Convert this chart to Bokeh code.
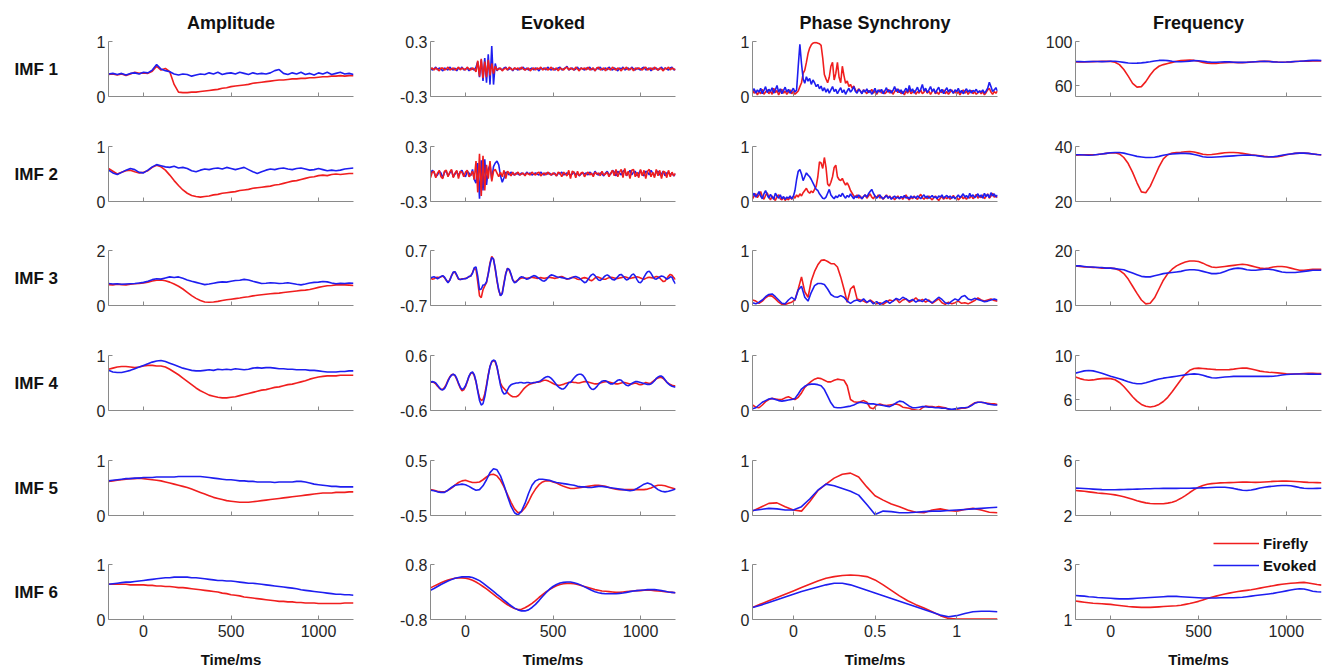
import numpy as np
from bokeh.plotting import figure
from bokeh.layouts import column, row
from bokeh.models import Range1d, FixedTicker, Legend, LegendItem, CustomJSTickFormatter, ColumnDataSource
from bokeh.core.properties import value
from bokeh.embed import file_html
from bokeh.resources import INLINE

# ---------------- labels ----------------
col_titles = ["Amplitude", "Evoked", "Phase Synchrony", "Frequency"]
row_labels = ["IMF 1", "IMF 2", "IMF 3", "IMF 4", "IMF 5", "IMF 6"]
x_label = "Time/ms"
legend_labels = ["Firefly", "Evoked"]

x_span = [(-200, 1200), (-200, 1200), (-0.25, 1.25), (-200, 1200)]
x_ticks = [[0, 500, 1000], [0, 500, 1000], [0, 0.5, 1], [0, 500, 1000]]

amp_ylim = [(0, 1), (0, 1), (0, 2), (0, 1), (0, 1), (0, 1)]
amp_yticks = [[0, 1], [0, 1], [0, 2], [0, 1], [0, 1], [0, 1]]
evk_ylim = [(-0.3, 0.3), (-0.3, 0.3), (-0.7, 0.7), (-0.6, 0.6), (-0.5, 0.5), (-0.8, 0.8)]
evk_yticks = [[-0.3, 0.3], [-0.3, 0.3], [-0.7, 0.7], [-0.6, 0.6], [-0.5, 0.5], [-0.8, 0.8]]
phs_ylim = [(0, 1)] * 6
phs_yticks = [[0, 1]] * 6
frq_ylim = [(50, 100), (20, 40), (10, 20), (5, 10), (2, 6), (1, 3)]
frq_yticks = [[60, 100], [20, 40], [10, 20], [6, 10], [2, 6], [1, 3]]

# ---------------- Amplitude (t = -200..1200, 25 ms) ----------------
amp1_evoked = [0.41,0.42,0.40,0.42,0.39,0.42,0.43,0.41,0.44,0.43,0.48,0.58,0.50,0.47,0.45,0.41,0.39,0.41,0.40,0.37,0.39,0.41,0.40,0.43,0.41,0.44,0.40,0.42,0.43,0.41,0.44,0.42,0.40,0.43,0.41,0.42,0.41,0.43,0.47,0.49,0.42,0.40,0.43,0.41,0.44,0.40,0.42,0.39,0.43,0.41,0.44,0.40,0.42,0.44,0.41,0.42,0.40]
amp1_firefly = [0.40,0.41,0.39,0.41,0.38,0.41,0.44,0.42,0.43,0.42,0.46,0.55,0.48,0.51,0.45,0.22,0.08,0.07,0.07,0.08,0.08,0.09,0.10,0.11,0.12,0.13,0.15,0.16,0.18,0.19,0.20,0.21,0.22,0.24,0.25,0.26,0.27,0.28,0.29,0.30,0.30,0.31,0.32,0.32,0.33,0.33,0.34,0.34,0.35,0.36,0.36,0.37,0.37,0.38,0.37,0.38,0.38]
amp2_evoked = [0.57,0.52,0.49,0.53,0.57,0.60,0.58,0.53,0.52,0.57,0.63,0.67,0.65,0.63,0.62,0.64,0.61,0.62,0.60,0.56,0.54,0.57,0.59,0.58,0.60,0.61,0.59,0.62,0.60,0.58,0.60,0.62,0.58,0.54,0.51,0.54,0.57,0.59,0.58,0.60,0.61,0.59,0.58,0.60,0.61,0.59,0.57,0.58,0.60,0.58,0.56,0.57,0.56,0.57,0.59,0.60,0.61]
amp2_firefly = [0.60,0.55,0.50,0.53,0.56,0.57,0.54,0.52,0.53,0.56,0.62,0.66,0.63,0.57,0.48,0.38,0.29,0.21,0.15,0.11,0.09,0.08,0.09,0.10,0.12,0.13,0.15,0.16,0.17,0.18,0.20,0.21,0.22,0.24,0.25,0.26,0.27,0.28,0.30,0.31,0.33,0.35,0.37,0.38,0.40,0.42,0.44,0.45,0.47,0.48,0.47,0.49,0.50,0.49,0.50,0.51,0.51]
amp3_evoked = [0.80,0.78,0.79,0.77,0.78,0.79,0.80,0.82,0.84,0.88,0.94,0.97,0.96,1.00,1.04,1.02,1.04,0.99,0.93,0.88,0.84,0.80,0.76,0.78,0.81,0.84,0.86,0.85,0.88,0.91,0.92,0.95,0.93,0.88,0.84,0.80,0.81,0.83,0.82,0.80,0.81,0.83,0.80,0.77,0.75,0.78,0.82,0.84,0.85,0.87,0.86,0.82,0.79,0.81,0.80,0.82,0.81]
amp3_firefly = [0.76,0.75,0.77,0.76,0.75,0.77,0.79,0.80,0.82,0.85,0.89,0.92,0.93,0.90,0.85,0.78,0.70,0.60,0.48,0.36,0.26,0.18,0.13,0.12,0.13,0.15,0.18,0.21,0.23,0.25,0.27,0.30,0.32,0.35,0.37,0.39,0.41,0.43,0.44,0.45,0.47,0.49,0.51,0.53,0.55,0.56,0.58,0.62,0.66,0.69,0.72,0.73,0.75,0.76,0.75,0.74,0.73]
amp4_evoked = [0.73,0.70,0.69,0.69,0.71,0.73,0.76,0.79,0.82,0.85,0.88,0.90,0.91,0.89,0.86,0.83,0.80,0.77,0.75,0.73,0.72,0.72,0.73,0.74,0.73,0.75,0.74,0.75,0.74,0.76,0.75,0.74,0.75,0.77,0.78,0.77,0.78,0.78,0.77,0.76,0.76,0.75,0.75,0.74,0.74,0.74,0.73,0.73,0.72,0.71,0.70,0.70,0.70,0.71,0.71,0.72,0.72]
amp4_firefly = [0.75,0.77,0.79,0.80,0.80,0.79,0.78,0.79,0.81,0.82,0.82,0.81,0.81,0.79,0.75,0.70,0.65,0.59,0.53,0.47,0.41,0.36,0.32,0.28,0.26,0.24,0.23,0.23,0.24,0.25,0.27,0.29,0.31,0.33,0.35,0.37,0.38,0.40,0.42,0.43,0.45,0.47,0.48,0.50,0.52,0.54,0.57,0.59,0.61,0.62,0.63,0.63,0.63,0.64,0.64,0.64,0.64]
amp5_evoked = [0.63,0.64,0.65,0.66,0.67,0.67,0.68,0.68,0.69,0.69,0.69,0.70,0.70,0.70,0.70,0.70,0.71,0.71,0.71,0.71,0.71,0.71,0.70,0.69,0.68,0.67,0.66,0.65,0.65,0.64,0.63,0.63,0.62,0.62,0.61,0.61,0.61,0.61,0.60,0.61,0.61,0.61,0.61,0.62,0.62,0.61,0.59,0.57,0.56,0.55,0.54,0.53,0.53,0.52,0.52,0.52,0.52]
amp5_firefly = [0.62,0.63,0.64,0.65,0.66,0.67,0.67,0.68,0.67,0.66,0.65,0.64,0.63,0.61,0.59,0.57,0.55,0.53,0.51,0.48,0.45,0.42,0.39,0.36,0.33,0.31,0.29,0.27,0.26,0.25,0.24,0.24,0.24,0.25,0.26,0.27,0.28,0.29,0.30,0.31,0.32,0.33,0.34,0.35,0.36,0.37,0.38,0.39,0.40,0.41,0.41,0.41,0.42,0.42,0.42,0.43,0.43]
amp6_evoked = [0.64,0.65,0.66,0.67,0.68,0.68,0.69,0.70,0.71,0.72,0.73,0.74,0.75,0.76,0.76,0.77,0.77,0.77,0.77,0.76,0.76,0.75,0.74,0.73,0.72,0.71,0.71,0.70,0.70,0.69,0.68,0.67,0.66,0.66,0.65,0.64,0.63,0.62,0.61,0.60,0.59,0.58,0.57,0.56,0.54,0.53,0.52,0.51,0.50,0.49,0.48,0.47,0.46,0.46,0.45,0.45,0.44]
amp6_firefly = [0.64,0.64,0.64,0.64,0.64,0.63,0.63,0.63,0.63,0.62,0.62,0.61,0.61,0.60,0.60,0.59,0.58,0.58,0.57,0.56,0.55,0.54,0.53,0.52,0.51,0.50,0.48,0.47,0.45,0.44,0.43,0.41,0.40,0.39,0.38,0.37,0.36,0.35,0.34,0.33,0.33,0.32,0.32,0.31,0.31,0.30,0.30,0.30,0.29,0.29,0.29,0.29,0.29,0.29,0.30,0.30,0.30]

# ---------------- Evoked ----------------
# IMF 1-4: t = -200..1200, 10 ms
evk1_evoked = [0.01,-0.01,0.00,0.02,-0.01,0.01,0.00,-0.02,0.01,0.00,
 -0.01,0.02,0.00,-0.01,0.01,-0.02,0.01,0.00,0.02,-0.01,
 0.00,0.01,-0.02,0.01,0.00,-0.01,0.02,0.08,-0.09,0.10,
 -0.13,0.12,-0.15,0.16,-0.17,0.25,-0.17,0.06,-0.02,0.01,
 0.00,-0.01,0.01,0.02,-0.01,0.00,0.01,-0.02,0.01,0.00,
 -0.01,0.01,0.00,0.02,-0.01,0.01,-0.01,0.00,0.01,-0.01,
 0.01,0.00,-0.02,0.01,0.00,0.01,-0.01,0.02,0.00,-0.01,
 0.01,-0.01,0.00,0.01,0.02,-0.01,0.00,0.01,0.03,-0.01,
 0.00,0.01,-0.01,0.00,0.02,-0.01,0.01,0.00,-0.01,0.01,
 0.00,0.02,-0.01,0.01,-0.02,0.01,0.00,0.02,-0.01,0.00,
 0.01,-0.01,0.02,0.00,-0.01,0.01,0.00,-0.02,0.01,0.00,
 0.02,-0.01,0.00,0.01,-0.01,0.02,0.00,-0.01,0.01,0.00,
 -0.01,0.01,0.02,-0.01,0.00,0.01,-0.02,0.01,0.00,0.01,
 -0.01,0.00,0.02,-0.01,0.01,0.00,-0.01,0.01,0.02,-0.01,0.00]
evk1_firefly = [0.00,0.01,-0.01,0.01,0.00,-0.02,0.01,0.01,-0.01,0.00,
 0.02,-0.01,0.00,0.01,-0.01,0.00,0.02,-0.01,0.01,0.00,
 -0.01,0.02,0.00,-0.01,0.01,0.00,-0.03,0.09,-0.08,0.11,
 -0.10,0.08,-0.09,0.10,-0.07,0.06,-0.05,0.03,-0.01,0.00,
 0.01,-0.02,0.00,0.01,-0.01,0.02,0.00,-0.01,0.01,0.00,
 0.01,-0.01,0.02,0.00,-0.01,0.00,0.01,-0.02,0.00,0.01,
 -0.01,0.01,0.00,0.02,-0.01,0.00,0.01,-0.01,0.00,0.02,
 -0.01,0.00,0.01,-0.02,0.01,0.00,-0.01,0.01,0.02,-0.01,
 0.01,0.00,-0.01,0.02,0.00,-0.02,0.01,0.00,0.01,-0.01,
 0.02,-0.01,0.00,0.01,-0.02,0.01,0.02,-0.01,0.00,0.01,
 -0.02,0.01,0.00,-0.01,0.02,0.00,-0.01,0.01,0.00,-0.02,
 0.01,0.00,0.02,-0.01,0.00,0.01,-0.02,0.01,0.00,0.01,
 0.00,-0.01,0.01,0.02,-0.01,0.00,0.01,-0.01,0.02,0.00,
 -0.01,0.01,0.00,-0.02,0.01,0.00,0.02,-0.01,0.01,0.00,-0.01]
evk2_evoked = [0.00,0.04,0.02,-0.03,-0.01,0.03,0.01,-0.04,0.02,0.03,
 -0.02,0.01,0.04,-0.03,0.00,0.03,-0.02,0.02,0.04,-0.01,
 -0.03,0.03,0.01,-0.02,0.05,-0.06,-0.10,0.12,-0.27,0.15,
 -0.18,0.16,-0.12,0.05,0.10,-0.06,0.08,0.12,0.14,0.10,
 -0.02,-0.09,-0.04,0.02,0.01,-0.01,0.02,0.00,-0.01,0.01,
 0.00,-0.01,0.01,0.00,-0.01,0.02,0.00,0.01,-0.01,0.00,
 0.01,0.00,-0.01,0.02,0.00,-0.01,0.01,0.00,0.01,-0.01,
 0.00,0.01,-0.02,0.01,0.00,0.02,-0.01,0.00,0.01,0.00,
 -0.01,0.00,0.02,-0.01,0.01,-0.02,0.00,0.01,0.00,0.01,
 -0.01,0.02,0.00,-0.01,0.03,0.00,-0.01,0.01,0.00,-0.02,
 0.01,0.03,-0.01,0.00,0.04,0.02,-0.02,0.03,0.01,-0.01,
 0.03,0.04,-0.02,0.01,0.04,-0.01,0.02,0.03,-0.02,0.01,
 0.04,0.00,-0.02,0.03,0.02,-0.01,0.04,0.01,-0.02,0.02,
 0.03,-0.01,0.00,0.03,-0.02,0.01,0.02,-0.01,0.01,-0.02,0.00]
evk2_firefly = [-0.04,0.02,0.03,-0.04,0.01,0.04,-0.03,-0.05,0.03,0.04,
 -0.03,0.02,0.05,-0.04,0.01,0.04,-0.05,0.03,0.02,-0.03,
 0.02,0.04,-0.03,-0.01,0.03,-0.06,0.14,-0.20,0.22,-0.24,
 0.20,-0.18,0.10,-0.05,0.14,-0.08,0.03,0.05,0.01,-0.03,
 0.02,-0.03,0.04,-0.05,0.03,0.01,-0.02,0.02,-0.01,0.00,
 0.02,-0.01,0.00,0.01,-0.02,0.01,0.00,-0.01,0.02,0.00,
 -0.01,0.01,0.02,-0.02,0.00,0.01,-0.01,0.02,0.00,-0.01,
 0.01,0.00,-0.02,0.02,0.01,-0.03,0.02,0.00,-0.02,0.04,
 -0.05,0.03,0.02,-0.04,0.03,-0.02,0.01,0.02,-0.03,0.00,
 0.02,-0.01,0.01,-0.03,0.02,0.00,0.01,-0.02,0.03,-0.01,
 0.00,0.02,-0.03,0.01,0.04,-0.02,0.05,-0.03,0.02,0.05,
 -0.04,0.06,-0.02,0.03,-0.05,0.04,0.05,-0.03,0.02,-0.04,
 0.05,-0.02,0.04,-0.05,0.03,0.05,-0.03,0.02,-0.04,0.05,
 -0.02,0.04,-0.05,0.03,0.02,-0.04,0.04,-0.03,0.02,-0.02,0.01]
evk3_evoked = [0.00,0.02,0.03,0.01,-0.02,0.01,0.04,0.06,0.02,-0.05,
 -0.12,-0.06,0.05,0.15,0.16,0.08,-0.02,-0.04,-0.03,-0.02,
 -0.02,0.00,0.04,0.05,0.12,0.26,0.28,0.05,-0.30,-0.28,
 -0.18,-0.17,-0.10,0.10,0.35,0.52,0.48,0.25,-0.05,-0.30,
 -0.45,-0.40,-0.15,0.10,0.24,0.22,0.10,-0.05,-0.12,-0.10,
 -0.05,0.01,0.03,0.02,-0.01,-0.03,-0.02,0.01,0.04,0.06,
 0.05,0.02,-0.01,-0.04,-0.07,-0.08,-0.05,0.00,0.05,0.08,
 0.07,0.05,0.03,0.02,0.02,0.01,0.00,-0.01,-0.02,-0.02,
 -0.01,0.01,0.03,0.04,0.02,0.00,-0.04,-0.08,-0.12,-0.10,
 -0.04,0.03,0.08,0.10,0.06,0.00,-0.05,-0.06,-0.03,0.02,
 0.06,0.08,0.05,0.00,-0.04,-0.05,-0.02,0.03,0.08,0.09,
 0.05,-0.01,-0.05,-0.03,0.02,0.08,0.10,0.05,-0.04,-0.11,
 -0.12,-0.07,0.02,0.10,0.16,0.17,0.12,0.04,-0.02,-0.03,
 0.00,0.03,0.05,0.04,0.01,-0.03,-0.01,0.03,0.02,-0.08,-0.15]
evk3_firefly = [0.00,-0.03,-0.02,0.01,0.02,0.01,0.03,0.05,0.01,-0.06,
 -0.11,-0.05,0.06,0.14,0.15,0.06,-0.03,-0.04,-0.02,-0.02,
 -0.01,0.01,0.03,0.05,0.14,0.24,0.22,-0.10,-0.45,-0.50,
 -0.30,-0.20,-0.12,0.12,0.38,0.55,0.48,0.22,-0.08,-0.32,
 -0.45,-0.38,-0.12,0.12,0.25,0.20,0.08,-0.05,-0.10,-0.08,
 -0.05,-0.02,0.00,0.01,0.00,-0.01,0.00,0.01,0.02,0.01,
 0.00,-0.01,0.00,0.01,0.00,-0.01,0.00,0.01,0.02,0.01,
 0.00,-0.01,0.00,0.01,0.03,0.04,0.02,-0.01,-0.03,-0.02,
 0.00,0.02,0.01,-0.01,-0.03,-0.04,-0.02,0.00,0.01,0.00,
 -0.02,-0.05,-0.07,-0.04,0.00,0.03,0.02,0.00,-0.02,-0.03,
 -0.03,-0.01,0.01,0.02,0.01,0.00,-0.01,-0.01,0.00,0.01,
 0.02,0.03,0.02,0.00,-0.01,0.00,0.01,0.02,0.03,0.02,
 0.00,-0.02,-0.03,-0.01,0.01,0.02,0.01,0.00,0.02,0.04,
 0.03,0.00,-0.05,-0.09,-0.08,-0.02,0.05,0.09,0.07,0.01,-0.04]
evk4_evoked = [0.02,0.03,0.02,0.00,-0.05,-0.10,-0.14,-0.15,-0.12,-0.05,
 0.04,0.12,0.17,0.19,0.17,0.10,0.00,-0.09,-0.14,-0.12,
 -0.06,0.04,0.15,0.22,0.24,0.18,0.04,-0.18,-0.38,-0.48,
 -0.45,-0.30,-0.08,0.16,0.36,0.47,0.50,0.48,0.36,0.15,
 -0.05,-0.18,-0.24,-0.23,-0.15,-0.08,-0.04,-0.02,-0.01,0.00,
 0.00,0.01,0.01,0.00,0.00,0.01,0.01,0.00,0.00,0.01,
 0.01,0.02,0.03,0.05,0.08,0.11,0.13,0.14,0.13,0.10,
 0.06,0.01,-0.04,-0.08,-0.11,-0.13,-0.13,-0.10,-0.05,0.01,
 0.01,0.06,0.11,0.15,0.18,0.19,0.19,0.17,0.12,0.05,
 -0.02,-0.09,-0.13,-0.14,-0.12,-0.08,-0.03,0.01,0.04,0.05,
 0.05,0.03,0.00,-0.02,-0.02,0.00,0.03,0.06,0.07,0.06,
 0.02,-0.02,-0.05,-0.06,-0.04,-0.01,0.01,0.03,0.03,0.02,
 0.01,0.00,-0.01,-0.02,-0.03,-0.03,-0.02,0.01,0.05,0.10,
 0.13,0.15,0.15,0.12,0.07,0.02,-0.02,-0.05,-0.07,-0.08,-0.09]
evk4_firefly = [0.02,0.02,0.01,-0.02,-0.07,-0.11,-0.14,-0.14,-0.10,-0.03,
 0.06,0.13,0.18,0.19,0.16,0.08,-0.02,-0.11,-0.17,-0.15,
 -0.08,0.03,0.14,0.21,0.23,0.16,0.02,-0.16,-0.32,-0.38,
 -0.36,-0.24,-0.04,0.18,0.36,0.46,0.49,0.46,0.34,0.16,
 0.00,-0.08,-0.12,-0.16,-0.21,-0.25,-0.28,-0.30,-0.30,-0.30,
 -0.28,-0.24,-0.19,-0.14,-0.10,-0.07,-0.04,-0.02,-0.01,0.00,
 0.01,0.02,0.02,0.03,0.05,0.06,0.06,0.05,0.03,0.01,
 -0.01,-0.03,-0.04,-0.05,-0.05,-0.04,-0.03,-0.01,0.00,0.01,
 0.02,0.02,0.01,0.01,0.00,0.00,0.01,0.02,0.03,0.03,
 0.02,0.01,0.00,-0.01,-0.02,-0.02,-0.01,0.00,0.01,0.02,
 0.03,0.03,0.02,0.01,0.00,-0.01,-0.02,-0.02,-0.01,0.00,
 0.01,0.01,0.00,-0.01,-0.02,-0.02,-0.01,0.00,-0.01,-0.03,
 -0.04,-0.03,-0.01,0.01,0.00,-0.01,0.00,0.03,0.06,0.09,
 0.11,0.12,0.12,0.10,0.06,0.02,-0.01,-0.03,-0.05,-0.06,-0.06]
# IMF 5-6: t = -200..1200, 20 ms
evk5_evoked = [-0.04,-0.05,-0.07,-0.08,-0.08,-0.04,0.01,0.05,0.06,0.07,
 0.06,0.03,-0.01,-0.04,-0.03,0.04,0.15,0.28,0.35,0.33,
 0.22,0.05,-0.15,-0.33,-0.45,-0.49,-0.42,-0.28,-0.10,0.05,
 0.13,0.16,0.16,0.15,0.14,0.12,0.10,0.09,0.08,0.07,
 0.06,0.05,0.03,0.02,0.02,0.01,0.01,0.02,0.03,0.03,
 0.02,0.01,0.00,-0.01,-0.02,-0.03,-0.04,-0.05,-0.04,-0.01,
 0.03,0.07,0.09,0.07,0.02,-0.03,-0.06,-0.07,-0.06,-0.04,-0.02]
evk5_firefly = [-0.03,-0.04,-0.06,-0.07,-0.07,-0.04,0.00,0.05,0.10,0.13,
 0.14,0.12,0.10,0.10,0.11,0.15,0.20,0.24,0.25,0.22,
 0.14,0.02,-0.12,-0.26,-0.38,-0.45,-0.43,-0.36,-0.25,-0.12,
 -0.02,0.06,0.11,0.13,0.13,0.11,0.09,0.06,0.03,0.01,
 -0.01,-0.01,0.00,0.01,0.02,0.03,0.04,0.05,0.05,0.04,
 0.03,0.01,-0.01,-0.02,-0.03,-0.03,-0.03,-0.03,-0.03,-0.03,
 -0.03,-0.03,-0.02,0.00,0.03,0.05,0.05,0.04,0.02,0.00,-0.02]
evk6_evoked = [0.05,0.10,0.16,0.22,0.27,0.32,0.36,0.40,0.42,0.44,
 0.44,0.44,0.42,0.38,0.33,0.26,0.18,0.10,0.02,-0.07,
 -0.15,-0.24,-0.32,-0.40,-0.47,-0.52,-0.55,-0.55,-0.52,-0.45,
 -0.36,-0.25,-0.13,-0.02,0.08,0.16,0.22,0.26,0.28,0.29,
 0.29,0.27,0.24,0.20,0.15,0.10,0.05,0.01,-0.02,-0.04,
 -0.05,-0.05,-0.05,-0.05,-0.04,-0.03,-0.01,0.01,0.03,0.04,
 0.05,0.06,0.07,0.07,0.07,0.06,0.04,0.02,0.00,-0.01,-0.02]
evk6_firefly = [0.12,0.17,0.22,0.27,0.31,0.35,0.38,0.40,0.41,0.41,
 0.40,0.38,0.34,0.29,0.23,0.16,0.09,0.01,-0.07,-0.15,
 -0.22,-0.30,-0.37,-0.43,-0.48,-0.51,-0.50,-0.46,-0.40,-0.33,
 -0.25,-0.16,-0.08,0.00,0.07,0.13,0.18,0.22,0.24,0.25,
 0.25,0.24,0.22,0.19,0.16,0.13,0.10,0.07,0.05,0.03,
 0.02,0.01,0.00,-0.01,-0.01,0.00,0.01,0.02,0.03,0.04,
 0.04,0.05,0.05,0.05,0.04,0.03,0.02,0.01,0.00,-0.01,-0.02]

# ---------------- Phase Synchrony (t = -0.25..1.25 s) ----------------
# IMF 1-2: 10 ms
phs1_evoked = [0.10,0.14,0.06,0.12,0.08,0.15,0.05,0.11,0.18,0.07,
 0.13,0.09,0.16,0.06,0.12,0.20,0.08,0.14,0.05,0.11,
 0.17,0.08,0.13,0.06,0.10,0.15,0.08,0.12,0.55,0.95,
 0.60,0.32,0.24,0.36,0.28,0.33,0.22,0.30,0.25,0.18,
 0.22,0.14,0.19,0.10,0.16,0.08,0.14,0.06,0.12,0.18,
 0.09,0.13,0.05,0.11,0.16,0.07,0.12,0.04,0.10,0.15,
 0.08,0.12,0.18,0.09,0.06,0.13,0.10,0.05,0.12,0.08,
 0.14,0.07,0.11,0.04,0.09,0.15,0.06,0.12,0.08,0.13,
 0.05,0.10,0.16,0.08,0.12,0.06,0.11,0.18,0.09,0.14,
 0.07,0.12,0.05,0.10,0.15,0.08,0.20,0.09,0.14,0.06,
 0.11,0.17,0.08,0.13,0.22,0.10,0.15,0.07,0.12,0.18,
 0.09,0.14,0.06,0.12,0.17,0.08,0.13,0.05,0.11,0.16,
 0.08,0.13,0.10,0.06,0.12,0.09,0.15,0.07,0.11,0.05,
 0.10,0.14,0.08,0.12,0.06,0.11,0.09,0.13,0.07,0.10,
 0.08,0.12,0.06,0.10,0.15,0.26,0.18,0.09,0.12,0.16,0.10]
phs1_firefly = [0.12,0.06,0.10,0.03,0.09,0.05,0.13,0.04,0.08,0.12,
 0.05,0.10,0.04,0.15,0.07,0.11,0.03,0.09,0.13,0.06,
 0.10,0.04,0.08,0.12,0.05,0.09,0.04,0.07,0.10,0.18,
 0.25,0.42,0.48,0.62,0.78,0.88,0.94,0.97,0.98,0.98,
 0.97,0.96,0.93,0.70,0.40,0.32,0.25,0.35,0.55,0.62,
 0.30,0.42,0.62,0.35,0.25,0.55,0.38,0.24,0.28,0.18,
 0.22,0.15,0.19,0.12,0.08,0.14,0.10,0.06,0.12,0.09,
 0.05,0.11,0.08,0.13,0.06,0.10,0.04,0.09,0.12,0.06,
 0.10,0.05,0.08,0.13,0.06,0.11,0.04,0.09,0.14,0.07,
 0.12,0.05,0.09,0.03,0.10,0.06,0.13,0.05,0.08,0.11,
 0.04,0.09,0.06,0.12,0.05,0.08,0.13,0.06,0.10,0.04,
 0.09,0.13,0.05,0.08,0.04,0.10,0.07,0.12,0.05,0.09,
 0.04,0.08,0.12,0.06,0.10,0.05,0.09,0.03,0.08,0.12,
 0.06,0.10,0.04,0.08,0.11,0.05,0.09,0.04,0.07,0.10,
 0.05,0.09,0.03,0.07,0.12,0.15,0.08,0.04,0.09,0.06,0.10]
phs2_evoked = [0.10,0.15,0.08,0.12,0.18,0.10,0.05,0.14,0.20,0.12,
 0.06,0.13,0.08,0.04,0.15,0.10,0.06,0.12,0.05,0.09,
 0.04,0.08,0.06,0.10,0.05,0.09,0.20,0.40,0.55,0.58,
 0.50,0.38,0.45,0.52,0.48,0.45,0.40,0.34,0.28,0.22,
 0.20,0.14,0.10,0.06,0.05,0.08,0.15,0.22,0.12,0.08,
 0.05,0.10,0.07,0.12,0.09,0.15,0.10,0.06,0.11,0.08,
 0.14,0.09,0.05,0.10,0.07,0.12,0.08,0.05,0.09,0.12,
 0.08,0.14,0.18,0.22,0.15,0.10,0.06,0.09,0.12,0.07,
 0.05,0.08,0.11,0.06,0.09,0.04,0.07,0.10,0.06,0.08,
 0.05,0.09,0.07,0.11,0.06,0.08,0.05,0.10,0.07,0.09,
 0.06,0.10,0.08,0.05,0.09,0.12,0.07,0.10,0.06,0.08,
 0.11,0.07,0.09,0.05,0.10,0.08,0.12,0.06,0.09,0.11,
 0.07,0.10,0.06,0.09,0.05,0.08,0.12,0.07,0.10,0.14,
 0.08,0.11,0.06,0.15,0.09,0.12,0.07,0.10,0.14,0.08,
 0.12,0.06,0.15,0.09,0.13,0.07,0.16,0.10,0.14,0.08,0.12]
phs2_firefly = [0.05,0.10,0.14,0.07,0.12,0.18,0.09,0.04,0.11,0.16,
 0.08,0.03,0.10,0.06,0.02,0.09,0.12,0.05,0.03,0.08,
 0.02,0.06,0.03,0.08,0.04,0.10,0.06,0.12,0.08,0.14,
 0.10,0.16,0.20,0.24,0.18,0.15,0.19,0.16,0.22,0.28,
 0.45,0.72,0.70,0.60,0.80,0.62,0.32,0.28,0.35,0.45,
 0.62,0.66,0.45,0.40,0.38,0.42,0.35,0.30,0.34,0.28,
 0.20,0.15,0.10,0.08,0.12,0.06,0.10,0.05,0.09,0.12,
 0.06,0.10,0.14,0.08,0.05,0.10,0.07,0.12,0.06,0.09,
 0.04,0.08,0.12,0.06,0.10,0.05,0.08,0.03,0.07,0.10,
 0.05,0.09,0.04,0.08,0.12,0.06,0.03,0.08,0.05,0.10,
 0.06,0.04,0.09,0.13,0.07,0.04,0.08,0.05,0.10,0.06,
 0.03,0.07,0.10,0.05,0.02,0.06,0.09,0.04,0.08,0.05,
 0.09,0.04,0.07,0.11,0.05,0.08,0.03,0.06,0.10,0.05,
 0.08,0.04,0.09,0.06,0.11,0.05,0.08,0.13,0.06,0.10,
 0.07,0.12,0.05,0.09,0.14,0.06,0.10,0.15,0.08,0.11,0.07]
# IMF 3-4: 20 ms
phs3_evoked = [0.05,0.03,0.06,0.10,0.16,0.20,0.21,0.16,0.10,0.04,
 0.03,0.10,0.15,0.10,0.28,0.35,0.15,0.08,0.24,0.36,
 0.40,0.40,0.38,0.30,0.20,0.16,0.15,0.18,0.15,0.08,
 0.04,0.08,0.10,0.07,0.12,0.06,0.09,0.03,0.07,0.02,
 0.05,0.09,0.04,0.08,0.13,0.10,0.15,0.12,0.08,0.11,
 0.06,0.10,0.07,0.12,0.08,0.05,0.10,0.15,0.11,0.05,
 0.03,0.08,0.12,0.09,0.16,0.18,0.12,0.10,0.13,0.11,
 0.09,0.07,0.08,0.10,0.12,0.10]
phs3_firefly = [0.10,0.08,0.04,0.08,0.14,0.18,0.17,0.12,0.06,0.02,
 0.02,0.04,0.06,0.10,0.30,0.52,0.25,0.15,0.45,0.62,
 0.74,0.82,0.83,0.80,0.76,0.76,0.70,0.52,0.30,0.06,
 0.30,0.36,0.12,0.10,0.08,0.05,0.10,0.06,0.03,0.05,
 0.02,0.06,0.10,0.08,0.12,0.05,0.10,0.12,0.06,0.09,
 0.14,0.08,0.11,0.06,0.10,0.04,0.08,0.12,0.05,0.02,
 0.06,0.03,0.05,0.08,0.04,0.05,0.03,0.06,0.09,0.14,
 0.10,0.08,0.10,0.12,0.09,0.08]
phs4_evoked = [0.03,0.05,0.10,0.15,0.18,0.21,0.22,0.20,0.18,0.17,
 0.18,0.19,0.20,0.22,0.30,0.39,0.44,0.47,0.48,0.48,
 0.47,0.45,0.38,0.26,0.14,0.06,0.05,0.05,0.06,0.07,
 0.08,0.10,0.13,0.15,0.14,0.13,0.12,0.12,0.11,0.10,
 0.09,0.08,0.07,0.10,0.14,0.17,0.16,0.12,0.08,0.05,
 0.05,0.06,0.07,0.07,0.06,0.06,0.05,0.05,0.04,0.04,
 0.03,0.02,0.03,0.04,0.05,0.05,0.06,0.09,0.13,0.15,
 0.15,0.14,0.12,0.11,0.10,0.10]
phs4_firefly = [0.10,0.06,0.05,0.10,0.16,0.20,0.22,0.21,0.20,0.20,
 0.23,0.25,0.22,0.20,0.24,0.32,0.42,0.48,0.53,0.57,
 0.59,0.58,0.55,0.52,0.52,0.55,0.57,0.56,0.55,0.45,
 0.20,0.16,0.15,0.16,0.18,0.15,0.05,0.03,0.10,0.12,
 0.10,0.09,0.10,0.11,0.12,0.10,0.06,0.05,0.04,0.02,
 0.01,0.00,0.05,0.08,0.07,0.07,0.06,0.07,0.06,0.05,
 0.02,0.00,0.01,0.03,0.04,0.04,0.06,0.10,0.14,0.15,
 0.15,0.14,0.13,0.12,0.12,0.11]
# IMF 5-6: 50 ms
phs5_evoked = [0.09,0.11,0.13,0.12,0.10,0.10,0.16,0.30,0.46,0.57,
 0.54,0.49,0.44,0.37,0.20,0.02,0.08,0.07,0.05,0.05,
 0.06,0.07,0.08,0.08,0.09,0.10,0.11,0.12,0.13,0.14,0.15]
phs5_firefly = [0.08,0.15,0.22,0.23,0.16,0.10,0.08,0.25,0.45,0.57,
 0.68,0.75,0.77,0.70,0.52,0.36,0.28,0.21,0.16,0.10,
 0.06,0.05,0.10,0.12,0.09,0.08,0.11,0.13,0.10,0.06,0.05]
phs6_evoked = [0.22,0.26,0.31,0.36,0.41,0.46,0.51,0.55,0.59,0.63,
 0.66,0.66,0.63,0.58,0.53,0.48,0.43,0.38,0.33,0.28,
 0.23,0.18,0.13,0.08,0.05,0.07,0.11,0.14,0.15,0.15,0.14]
phs6_firefly = [0.22,0.28,0.34,0.40,0.46,0.52,0.58,0.64,0.70,0.75,
 0.78,0.80,0.81,0.80,0.78,0.72,0.63,0.53,0.43,0.34,
 0.27,0.21,0.14,0.07,0.02,0.01,0.01,0.01,0.01,0.01,0.01]

# ---------------- Frequency (t = -200..1200, 25 ms) ----------------
frq1_evoked = [81.8,81.7,81.6,81.7,81.8,81.8,81.7,81.8,82.0,82.0,81.6,81.0,80.4,80.2,80.3,80.6,81.0,81.6,82.3,82.8,83.0,82.6,82.0,81.6,81.6,81.8,82.2,82.6,82.5,82.0,81.5,81.2,81.2,81.4,81.6,81.5,81.2,81.0,81.0,81.2,81.4,81.6,81.8,81.9,81.8,81.5,81.3,81.2,81.3,81.5,81.8,82.0,82.3,82.6,82.8,82.8,82.7]
frq1_firefly = [81.5,81.4,81.5,81.6,81.7,81.8,81.9,82.0,81.9,81.2,79.0,74.5,68.5,62.0,58.5,59.0,63.5,69.5,74.5,77.5,79.0,80.0,81.0,82.0,82.6,83.0,83.1,82.8,82.0,81.0,80.3,80.0,80.1,80.4,80.8,81.0,81.0,80.8,80.8,81.0,81.3,81.6,81.9,82.0,81.9,81.6,81.3,81.2,81.3,81.5,81.8,82.0,82.1,82.2,82.3,82.3,82.3]
frq2_evoked = [37.0,37.0,36.9,36.8,36.9,37.1,37.3,37.5,37.7,37.8,37.8,37.6,37.2,36.8,36.4,36.2,36.0,36.0,36.1,36.4,36.8,37.1,37.3,37.4,37.5,37.5,37.4,37.1,36.7,36.3,36.1,36.1,36.2,36.3,36.4,36.5,36.6,36.7,36.8,36.9,36.8,36.7,36.5,36.3,36.2,36.3,36.5,36.8,37.1,37.3,37.5,37.6,37.6,37.5,37.3,37.1,37.0]
frq2_firefly = [36.8,36.9,37.0,37.0,37.0,37.1,37.3,37.5,37.7,37.7,37.3,36.0,33.8,30.6,26.8,23.5,23.2,25.5,29.0,32.6,35.5,37.0,37.6,37.8,37.9,38.1,38.2,38.0,37.6,37.2,37.0,37.1,37.3,37.5,37.7,37.8,37.8,37.7,37.5,37.3,37.0,36.8,36.6,36.4,36.3,36.2,36.3,36.6,37.0,37.3,37.5,37.6,37.6,37.5,37.3,37.1,36.9]
frq3_evoked = [17.2,17.2,17.1,17.0,17.0,16.9,16.9,16.8,16.8,16.7,16.6,16.5,16.2,15.9,15.6,15.3,15.2,15.2,15.4,15.6,15.8,15.9,16.0,16.1,16.2,16.4,16.5,16.5,16.4,16.2,16.0,15.8,15.8,15.9,16.2,16.5,16.7,16.8,16.7,16.5,16.4,16.4,16.5,16.6,16.6,16.5,16.3,16.1,16.0,16.0,16.0,16.1,16.2,16.3,16.4,16.4,16.4]
frq3_firefly = [17.2,17.1,17.0,17.0,16.9,16.9,16.8,16.8,16.8,16.7,16.4,15.8,14.8,13.5,12.2,11.0,10.3,10.4,11.4,13.0,14.6,15.8,16.6,17.2,17.6,17.9,18.1,18.1,18.0,17.7,17.3,17.0,16.9,17.0,17.1,17.2,17.3,17.4,17.5,17.4,17.2,17.0,16.8,16.7,16.8,17.0,17.1,17.1,17.0,16.8,16.6,16.4,16.4,16.5,16.6,16.6,16.6]
frq4_evoked = [8.40,8.50,8.60,8.63,8.60,8.50,8.38,8.25,8.12,8.00,7.88,7.76,7.62,7.50,7.43,7.43,7.52,7.64,7.76,7.86,7.94,8.00,8.06,8.12,8.18,8.24,8.30,8.33,8.30,8.20,8.08,7.98,7.96,8.00,8.04,8.07,8.10,8.10,8.10,8.10,8.10,8.10,8.10,8.10,8.10,8.12,8.16,8.22,8.27,8.30,8.32,8.32,8.32,8.31,8.31,8.30,8.30]
frq4_firefly = [8.05,7.90,7.80,7.75,7.78,7.85,7.90,7.92,7.90,7.80,7.55,7.18,6.72,6.25,5.85,5.55,5.38,5.32,5.38,5.55,5.82,6.20,6.70,7.25,7.80,8.30,8.65,8.82,8.85,8.82,8.78,8.75,8.72,8.70,8.70,8.72,8.76,8.82,8.86,8.85,8.78,8.68,8.58,8.52,8.48,8.45,8.42,8.38,8.34,8.32,8.32,8.34,8.36,8.38,8.38,8.36,8.35]
frq5_evoked = [3.99,3.98,3.96,3.94,3.92,3.90,3.88,3.87,3.87,3.87,3.88,3.89,3.90,3.91,3.92,3.93,3.94,3.95,3.96,3.96,3.97,3.97,3.97,3.97,3.98,3.98,3.98,3.99,4.00,4.01,4.02,4.04,4.05,4.06,4.05,4.02,3.97,3.90,3.84,3.82,3.85,3.92,4.00,4.06,4.10,4.13,4.16,4.18,4.18,4.16,4.10,4.03,3.98,3.96,3.96,3.97,3.98]
frq5_firefly = [3.82,3.79,3.76,3.72,3.68,3.64,3.61,3.58,3.55,3.50,3.44,3.37,3.28,3.18,3.08,2.99,2.92,2.87,2.85,2.85,2.86,2.90,2.97,3.08,3.25,3.45,3.67,3.88,4.05,4.18,4.27,4.32,4.35,4.37,4.38,4.39,4.40,4.42,4.43,4.43,4.42,4.41,4.42,4.44,4.46,4.48,4.49,4.50,4.50,4.49,4.47,4.45,4.43,4.41,4.40,4.39,4.38]
frq6_evoked = [1.87,1.86,1.85,1.83,1.82,1.80,1.79,1.78,1.77,1.76,1.75,1.75,1.75,1.76,1.77,1.78,1.79,1.80,1.81,1.82,1.83,1.84,1.84,1.84,1.83,1.82,1.81,1.80,1.79,1.78,1.78,1.78,1.78,1.79,1.79,1.79,1.79,1.80,1.81,1.83,1.85,1.87,1.89,1.91,1.93,1.95,1.98,2.01,2.04,2.07,2.10,2.12,2.11,2.07,2.03,2.01,2.00]
frq6_firefly = [1.67,1.65,1.63,1.61,1.59,1.58,1.57,1.56,1.55,1.53,1.51,1.49,1.47,1.46,1.45,1.44,1.44,1.44,1.45,1.46,1.47,1.48,1.49,1.50,1.52,1.55,1.58,1.62,1.66,1.71,1.76,1.81,1.85,1.89,1.93,1.96,1.99,2.02,2.04,2.06,2.08,2.11,2.14,2.17,2.20,2.23,2.26,2.28,2.30,2.32,2.33,2.34,2.35,2.33,2.30,2.27,2.25]

# ---------------- assemble (table built from the named arrays) ----------------
firefly = [
    [amp1_firefly, evk1_firefly, phs1_firefly, frq1_firefly],
    [amp2_firefly, evk2_firefly, phs2_firefly, frq2_firefly],
    [amp3_firefly, evk3_firefly, phs3_firefly, frq3_firefly],
    [amp4_firefly, evk4_firefly, phs4_firefly, frq4_firefly],
    [amp5_firefly, evk5_firefly, phs5_firefly, frq5_firefly],
    [amp6_firefly, evk6_firefly, phs6_firefly, frq6_firefly],
]
evoked = [
    [amp1_evoked, evk1_evoked, phs1_evoked, frq1_evoked],
    [amp2_evoked, evk2_evoked, phs2_evoked, frq2_evoked],
    [amp3_evoked, evk3_evoked, phs3_evoked, frq3_evoked],
    [amp4_evoked, evk4_evoked, phs4_evoked, frq4_evoked],
    [amp5_evoked, evk5_evoked, phs5_evoked, frq5_evoked],
    [amp6_evoked, evk6_evoked, phs6_evoked, frq6_evoked],
]
ylims = [amp_ylim, evk_ylim, phs_ylim, frq_ylim]
yticks = [amp_yticks, evk_yticks, phs_yticks, frq_yticks]

# ---------------- layout geometry ----------------
FONT = "Liberation Sans"
RED = "#f01e1e"
BLUE = "#1e1ef0"
AXIS_C = "#8a8a8a"
TICK_C = "#262626"

LABEL_W = 70
CELL_W = [325, 320, 322, 287]
B_LEFT = [38, 35, 37, 38]
B_RIGHT = [42, 40, 40, 3]
ROW_H = [121, 104, 105, 105, 88, 147]
B_TOP = [41, 25, 25, 25, 25, 41]
B_BOT = [25, 24, 25, 25, 8, 51]
LEGEND_EXTRA = 31   # px of frame above the last Frequency panel that holds the legend

fmt = CustomJSTickFormatter(code="return (Math.round(tick*1000)/1000).toString();")


def make_panel(r, c):
    x0, x1 = x_span[c]
    lo, hi = ylims[c][r]
    top = B_TOP[r]
    hi_range = hi
    has_legend = (r == 5 and c == 3)
    if has_legend:
        frame_h = ROW_H[r] - B_TOP[r] - B_BOT[r]
        hi_range = hi + (hi - lo) * LEGEND_EXTRA / frame_h
        top = B_TOP[r] - LEGEND_EXTRA
    p = figure(width=CELL_W[c], height=ROW_H[r],
               x_range=Range1d(x0, x1), y_range=Range1d(lo, hi_range),
               output_backend="svg", toolbar_location=None, tools="",
               min_border_left=B_LEFT[c], min_border_right=B_RIGHT[c],
               min_border_top=top, min_border_bottom=B_BOT[r],
               title=col_titles[c] if r == 0 else None)
    p.outline_line_color = None
    p.grid.visible = False
    p.background_fill_color = "white"
    p.border_fill_color = "white"
    if r == 0:
        p.title.align = "center"
        p.title.text_font = FONT
        p.title.text_font_size = "18px"
        p.title.text_font_style = "bold"
        p.title.text_color = "#111111"
        p.title.standoff = 17
    for ax in (p.xaxis[0], p.yaxis[0]):
        ax.axis_line_color = AXIS_C
        ax.axis_line_width = 1
        ax.major_tick_line_color = AXIS_C
        ax.major_tick_in = 4
        ax.major_tick_out = 0
        ax.minor_tick_line_color = None
        ax.major_label_text_font = FONT
        ax.major_label_text_font_size = "16px"
        ax.major_label_text_color = TICK_C
        ax.formatter = fmt
    p.yaxis.ticker = FixedTicker(ticks=yticks[c][r])
    p.yaxis.major_label_standoff = 3
    if has_legend:
        p.yaxis.bounds = (lo, hi)
    if r < 5:
        # tick marks without labels: drawn as minor ticks
        p.xaxis.ticker = FixedTicker(ticks=[], minor_ticks=x_ticks[c])
        p.xaxis.minor_tick_line_color = AXIS_C
        p.xaxis.minor_tick_in = 4
        p.xaxis.minor_tick_out = 0
        p.xaxis.major_label_standoff = 0
    else:
        p.xaxis.ticker = FixedTicker(ticks=x_ticks[c])
        p.xaxis.major_label_standoff = 5
        p.xaxis.axis_label = x_label
        p.xaxis.axis_label_text_font = FONT
        p.xaxis.axis_label_text_font_size = "15px"
        p.xaxis.axis_label_text_font_style = "bold"
        p.xaxis.axis_label_text_color = "#111111"
        p.xaxis.axis_label_standoff = 11

    ff = firefly[r][c]
    ev = evoked[r][c]
    src_ff = ColumnDataSource(dict(t=np.linspace(x0, x1, len(ff)), v=ff))
    src_ev = ColumnDataSource(dict(t=np.linspace(x0, x1, len(ev)), v=ev))
    if c == 1 and r < 2:
        r_ev = p.line("t", "v", source=src_ev, line_color=BLUE, line_width=1.6)
        r_ff = p.line("t", "v", source=src_ff, line_color=RED, line_width=1.6)
    else:
        r_ff = p.line("t", "v", source=src_ff, line_color=RED, line_width=1.6)
        r_ev = p.line("t", "v", source=src_ev, line_color=BLUE, line_width=1.6)

    if has_legend:
        leg = Legend(items=[LegendItem(label=legend_labels[0], renderers=[r_ff]),
                            LegendItem(label=legend_labels[1], renderers=[r_ev])],
                     location=(138, 44), orientation="vertical")
        leg.border_line_color = None
        leg.background_fill_alpha = 0
        leg.padding = 0
        leg.margin = 0
        leg.spacing = 2
        leg.glyph_width = 46
        leg.glyph_height = 20
        leg.label_height = 20
        leg.label_standoff = 4
        leg.label_text_font = FONT
        leg.label_text_font_size = "15px"
        leg.label_text_font_style = "bold"
        leg.label_text_color = "#111111"
        p.add_layout(leg, "center")
    return p


def make_label(r):
    p = figure(width=LABEL_W, height=ROW_H[r],
               x_range=Range1d(0, LABEL_W), y_range=Range1d(0, 1),
               output_backend="svg", toolbar_location=None, tools="",
               min_border_left=0, min_border_right=0,
               min_border_top=B_TOP[r], min_border_bottom=B_BOT[r],
               x_axis_location=None, y_axis_location=None)
    p.outline_line_color = None
    p.grid.visible = False
    src = ColumnDataSource(dict(x=[14], y=[0.5], txt=[row_labels[r]]))
    p.text("x", "y", text="txt", source=src, text_font=value(FONT),
           text_font_size="17px", text_font_style="bold", text_color="#111111",
           text_baseline="middle", text_align="left")
    return p


# columns of panels side by side, so each panel keeps its own borders
cols = [column([make_label(r) for r in range(6)], spacing=0)]
for c in range(4):
    cols.append(column([make_panel(r, c) for r in range(6)], spacing=0))
layout = row(cols, spacing=0)

open("out.html", "w").write(file_html(layout, INLINE))
